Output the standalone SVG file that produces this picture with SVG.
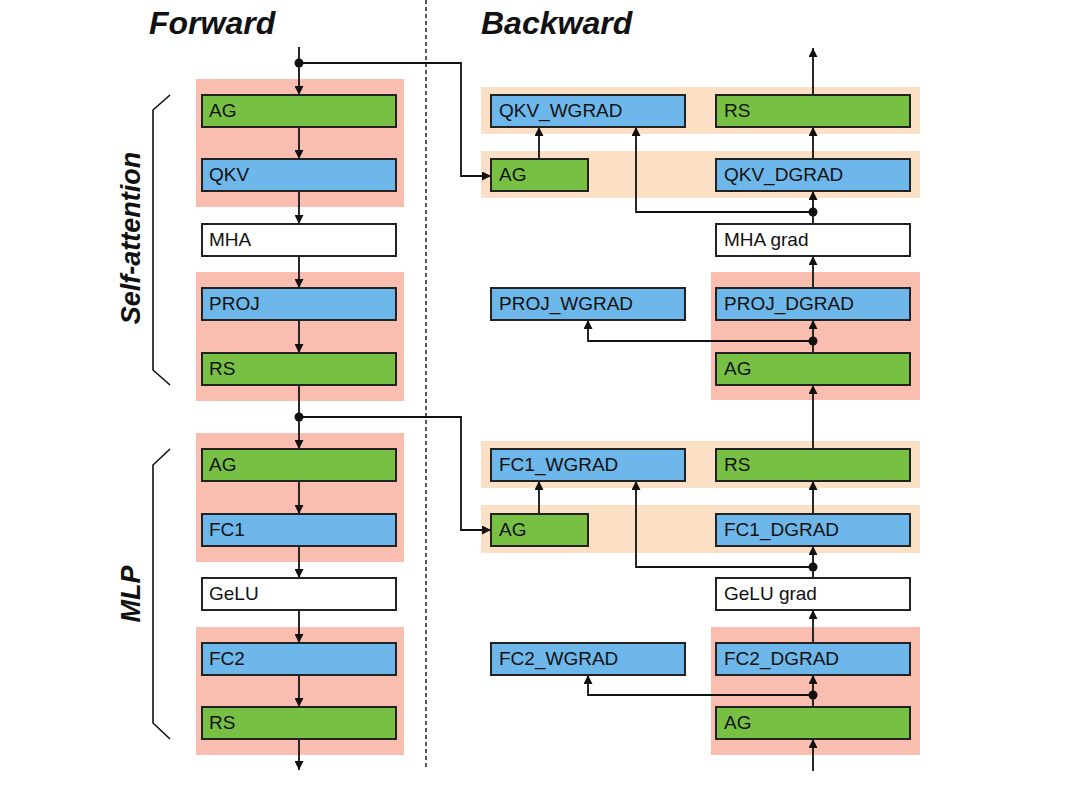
<svg xmlns="http://www.w3.org/2000/svg" width="1080" height="800" viewBox="0 0 1080 800">
<defs>
<marker id="ah" viewBox="0 0 10 10" refX="10" refY="5" markerWidth="9" markerHeight="9" markerUnits="userSpaceOnUse" orient="auto">
<path d="M0,0 L10,5 L0,10 z" fill="#111"/>
</marker>
<style>
.g{fill:#78C043;stroke:#222;stroke-width:2}
.b{fill:#6DB7EA;stroke:#222;stroke-width:2}
.w{fill:#fff;stroke:#222;stroke-width:2}
.pk{fill:#F9BEB0}
.or{fill:#FBE0C6}
.t{font-family:"Liberation Sans",Arial,sans-serif;font-size:19px;fill:#111}
.h{font-family:"Liberation Sans",Arial,sans-serif;font-size:32px;font-weight:bold;font-style:italic;fill:#111}
.s{font-family:"Liberation Sans",Arial,sans-serif;font-size:27px;font-weight:bold;font-style:italic;fill:#111}
.c{fill:none;stroke:#111;stroke-width:1.8}
.a{fill:none;stroke:#111;stroke-width:1.8;marker-end:url(#ah)}
.br{fill:none;stroke:#111;stroke-width:1.6}
</style>
</defs>
<rect width="1080" height="800" fill="#fff"/>
<g id="backgrounds">
<rect class="pk" x="196" y="79" width="208" height="128"/>
<rect class="pk" x="196" y="272" width="208" height="129"/>
<rect class="pk" x="196" y="433" width="208" height="129"/>
<rect class="pk" x="196" y="627" width="208" height="128"/>
<rect class="or" x="481" y="87" width="439" height="47"/>
<rect class="or" x="481" y="151" width="439" height="47"/>
<rect class="pk" x="711" y="272" width="209" height="128"/>
<rect class="or" x="481" y="441" width="439" height="47"/>
<rect class="or" x="481" y="505" width="439" height="48"/>
<rect class="pk" x="711" y="627" width="209" height="128"/>
</g>
<line x1="426" y1="0" x2="426" y2="770" stroke="#222" stroke-width="1.5" stroke-dasharray="4,3"/>
<text class="h" x="149" y="34">Forward</text>
<text class="h" x="481" y="34">Backward</text>
<g id="braces">
<path class="br" d="M170,95 L153,110 L153,370 L170,385"/>
<path class="br" d="M170,449 L153,465 L153,723 L170,739"/>
<text class="s" transform="translate(140,238) rotate(-90)" text-anchor="middle">Self-attention</text>
<text class="s" transform="translate(140,594) rotate(-90)" text-anchor="middle">MLP</text>
</g>
<g id="connectors">
<line class="a" x1="299" y1="47" x2="299" y2="95"/>
<line class="a" x1="299" y1="127" x2="299" y2="159"/>
<line class="a" x1="299" y1="191" x2="299" y2="224"/>
<line class="a" x1="299" y1="256" x2="299" y2="288"/>
<line class="a" x1="299" y1="320" x2="299" y2="353"/>
<line class="a" x1="299" y1="385" x2="299" y2="449"/>
<line class="a" x1="299" y1="481" x2="299" y2="514"/>
<line class="a" x1="299" y1="546" x2="299" y2="578"/>
<line class="a" x1="299" y1="610" x2="299" y2="643"/>
<line class="a" x1="299" y1="675" x2="299" y2="707"/>
<line class="a" x1="299" y1="739" x2="299" y2="770"/>
<polyline class="a" points="299,63 461,63 461,176 491,176"/>
<circle cx="299" cy="63" r="4.5" fill="#111"/>
<polyline class="a" points="299,417 461,417 461,530 491,530"/>
<circle cx="299" cy="417" r="4.5" fill="#111"/>
<line class="a" x1="813" y1="95" x2="813" y2="48"/>
<line class="a" x1="813" y1="159" x2="813" y2="127"/>
<line class="a" x1="539" y1="159" x2="539" y2="127"/>
<line class="a" x1="813" y1="224" x2="813" y2="191"/>
<polyline class="a" points="813,212 636,212 636,127"/>
<circle cx="813" cy="212" r="4.5" fill="#111"/>
<line class="a" x1="813" y1="288" x2="813" y2="256"/>
<line class="a" x1="813" y1="353" x2="813" y2="320"/>
<polyline class="a" points="813,341 588,341 588,320"/>
<circle cx="813" cy="341" r="4.5" fill="#111"/>
<line class="a" x1="813" y1="449" x2="813" y2="385"/>
<line class="a" x1="813" y1="514" x2="813" y2="481"/>
<line class="a" x1="539" y1="514" x2="539" y2="481"/>
<line class="a" x1="813" y1="578" x2="813" y2="546"/>
<polyline class="a" points="813,567 636,567 636,481"/>
<circle cx="813" cy="567" r="4.5" fill="#111"/>
<line class="a" x1="813" y1="643" x2="813" y2="610"/>
<line class="a" x1="813" y1="707" x2="813" y2="675"/>
<polyline class="a" points="813,695 588,695 588,675"/>
<circle cx="813" cy="695" r="4.5" fill="#111"/>
<line class="a" x1="813" y1="771" x2="813" y2="739"/>
</g>
<g id="f-ag1"><rect class="g" x="202" y="95" width="194" height="32"/><text class="t" x="209" y="117">AG</text></g>
<g id="f-qkv"><rect class="b" x="202" y="159" width="194" height="32"/><text class="t" x="209" y="181">QKV</text></g>
<g id="f-mha"><rect class="w" x="202" y="224" width="194" height="32"/><text class="t" x="209" y="246">MHA</text></g>
<g id="f-proj"><rect class="b" x="202" y="288" width="194" height="32"/><text class="t" x="209" y="310">PROJ</text></g>
<g id="f-rs1"><rect class="g" x="202" y="353" width="194" height="32"/><text class="t" x="209" y="375">RS</text></g>
<g id="f-ag2"><rect class="g" x="202" y="449" width="194" height="32"/><text class="t" x="209" y="471">AG</text></g>
<g id="f-fc1"><rect class="b" x="202" y="514" width="194" height="32"/><text class="t" x="209" y="536">FC1</text></g>
<g id="f-gelu"><rect class="w" x="202" y="578" width="194" height="32"/><text class="t" x="209" y="600">GeLU</text></g>
<g id="f-fc2"><rect class="b" x="202" y="643" width="194" height="32"/><text class="t" x="209" y="665">FC2</text></g>
<g id="f-rs2"><rect class="g" x="202" y="707" width="194" height="32"/><text class="t" x="209" y="729">RS</text></g>
<g id="b-qkvw"><rect class="b" x="491" y="95" width="194" height="32"/><text class="t" x="499" y="117">QKV_WGRAD</text></g>
<g id="b-rs1"><rect class="g" x="716" y="95" width="194" height="32"/><text class="t" x="724" y="117">RS</text></g>
<g id="b-ag1"><rect class="g" x="491" y="159" width="97" height="32"/><text class="t" x="499" y="181">AG</text></g>
<g id="b-qkvd"><rect class="b" x="716" y="159" width="194" height="32"/><text class="t" x="724" y="181">QKV_DGRAD</text></g>
<g id="b-mha"><rect class="w" x="716" y="224" width="194" height="32"/><text class="t" x="724" y="246">MHA grad</text></g>
<g id="b-projw"><rect class="b" x="491" y="288" width="194" height="32"/><text class="t" x="499" y="310">PROJ_WGRAD</text></g>
<g id="b-projd"><rect class="b" x="716" y="288" width="194" height="32"/><text class="t" x="724" y="310">PROJ_DGRAD</text></g>
<g id="b-ag2"><rect class="g" x="716" y="353" width="194" height="32"/><text class="t" x="724" y="375">AG</text></g>
<g id="b-fc1w"><rect class="b" x="491" y="449" width="194" height="32"/><text class="t" x="499" y="471">FC1_WGRAD</text></g>
<g id="b-rs2"><rect class="g" x="716" y="449" width="194" height="32"/><text class="t" x="724" y="471">RS</text></g>
<g id="b-ag3"><rect class="g" x="491" y="514" width="97" height="32"/><text class="t" x="499" y="536">AG</text></g>
<g id="b-fc1d"><rect class="b" x="716" y="514" width="194" height="32"/><text class="t" x="724" y="536">FC1_DGRAD</text></g>
<g id="b-gelu"><rect class="w" x="716" y="578" width="194" height="32"/><text class="t" x="724" y="600">GeLU grad</text></g>
<g id="b-fc2w"><rect class="b" x="491" y="643" width="194" height="32"/><text class="t" x="499" y="665">FC2_WGRAD</text></g>
<g id="b-fc2d"><rect class="b" x="716" y="643" width="194" height="32"/><text class="t" x="724" y="665">FC2_DGRAD</text></g>
<g id="b-ag4"><rect class="g" x="716" y="707" width="194" height="32"/><text class="t" x="724" y="729">AG</text></g>
</svg>
